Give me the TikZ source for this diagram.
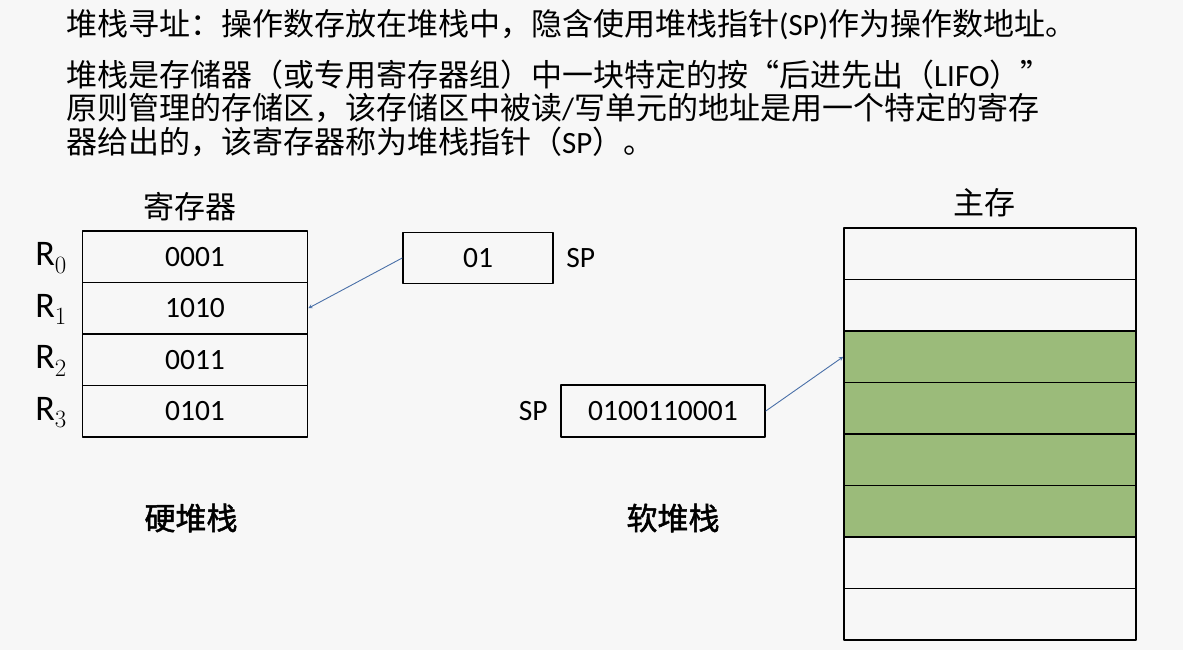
\documentclass[tikz,border=0pt]{standalone}
\usepackage{fontspec}
\setmainfont{Carlito}
\newfontfamily\cjk{Noto Sans CJK SC}
\newfontfamily\cjkb[FakeBold=1.6]{Noto Sans CJK SC}
\usetikzlibrary{positioning}
\definecolor{memgreen}{RGB}{155,187,122}
\definecolor{ptrblue}{RGB}{74,112,168}
\tikzset{
  cell/.style={draw, line width=1.6pt, inner sep=0pt, minimum height=51.5pt, font=\fontsize{29.5}{32}\selectfont},
  regcell/.style={cell, minimum width=225pt},
  memcell/.style={cell, minimum width=292pt},
  ptr/.style={->, >=stealth, draw=ptrblue, line width=0.9pt},
  cjktext/.style={font=\cjk\fontsize{31}{33.5}\selectfont, inner sep=0pt},
  stacklabel/.style={font=\cjkb\fontsize{31}{33.5}\selectfont, inner sep=0pt}
}
\begin{document}
\begin{tikzpicture}[x=1pt, y=-1pt, line join=round, line cap=round]
\useasboundingbox[fill=white!97!black] (0,0) rectangle (1183,650);
% text at the top
\node[cjktext, anchor=west] (intro) at (66,25) {堆栈寻址：操作数存放在堆栈中，隐含使用堆栈指针{\rmfamily (SP)}作为操作数地址。};
\node[cjktext, anchor=west, align=left] (defn) at (66,108) {堆栈是存储器（或专用寄存器组）中一块特定的按“后进先出（{\rmfamily LIFO}）”\\原则管理的存储区，该存储区中被读{\rmfamily /}写单元的地址是用一个特定的寄存\\器给出的，该寄存器称为堆栈指针（{\rmfamily SP}）。};
% hard stack: registers
\node[cjktext] (reglab) at (190,207) {寄存器};
\foreach \i/\v in {0/0001,1/1010,2/0011,3/0101}{
  \node[regcell] (reg\i) at (195,256.75+51.5*\i) {\v};
  \node[font=\fontsize{36}{38}\selectfont] (rname\i) at (51,258+51.5*\i) {$\mathrm{R}_{\i}$};
}
\node[cell, minimum width=150pt, minimum height=51pt] (sp) at (478,258) {01};
\node[font=\fontsize{29.5}{32}\selectfont, right=9pt of sp] (splab) {SP};
\draw[ptr] (sp.west) -- (reg1.east);
\node[stacklabel] (hard) at (191,518) {硬堆栈};
% soft stack: main memory
\node[cjktext] (memlab) at (984,203) {主存};
\foreach \i in {1,...,8}{
  \node[memcell] (mem\i) at (990,202.25+51.5*\i) {};
}
\foreach \i in {3,...,6}{
  \node[memcell, fill=memgreen] at (mem\i) {};
}
\node[cell, minimum width=204pt, minimum height=52pt] (ssp) at (663,411) {0100110001};
\node[font=\fontsize{29.5}{32}\selectfont, left=9pt of ssp] (ssplab) {SP};
\draw[ptr] (ssp.east) -- (mem3.west);
\node[stacklabel] (soft) at (673,518) {软堆栈};
\end{tikzpicture}
\end{document}
